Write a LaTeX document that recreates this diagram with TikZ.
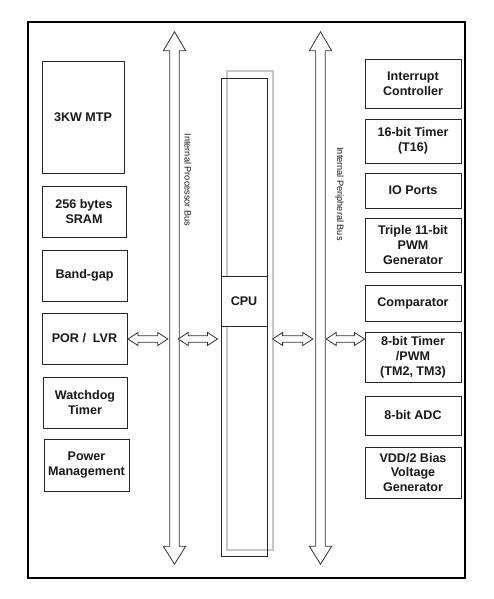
\documentclass[tikz,border=0pt]{standalone}
\usepackage{fontspec}
\setmainfont{Liberation Sans}
\usetikzlibrary{calc}
\tikzset{
  blk/.style={draw=black!85, line width=0.9bp, fill=white, inner sep=0.5bp, align=center,
    font=\fontsize{12.6}{15}\selectfont\bfseries, text=black!90},
  lbox/.style={blk},
  rbox/.style={blk, minimum width=96bp},
  busbody/.style={inner sep=0pt, minimum width=9bp},
  blockarrow/.style={draw=black!80, line width=0.8bp, fill=white},
  buslabel/.style={font=\fontsize{9.2}{10}\selectfont, rotate=-90, text=black!90},
}
\begin{document}
\begin{tikzpicture}[x=1bp,y=-1bp]
\useasboundingbox (0,0) rectangle (494,599);
% outer frame
\node[draw=black, line width=1.4bp, minimum width=437bp, minimum height=556bp, inner sep=0pt] (frame) at (246.5,300) {};

% left column
\node[lbox, minimum width=82bp, minimum height=112bp] (mtp) at (83,117) {3KW MTP};
\node[lbox, minimum width=84bp, minimum height=51bp] (sram) at (84,211.5) {256 bytes\\SRAM};
\node[lbox, minimum width=85bp, minimum height=51bp] (bg) at (84.5,275.5) {Band-gap};
\node[lbox, minimum width=85bp, minimum height=51bp] (por) at (84.5,338.5) {POR /\ \ LVR};
\node[lbox, minimum width=84bp, minimum height=51bp] (wdt) at (85,402.5) {Watchdog\\Timer};
\node[lbox, minimum width=85bp, minimum height=52bp] (pwr) at (86.5,465) {Power\\Management};

% right column
\node[rbox, minimum height=49bp] (intc) at (413,83.5) {Interrupt\\Controller};
\node[rbox, minimum height=44bp] (t16) at (413,141) {16-bit Timer\\(T16)};
\node[rbox, minimum height=35bp] (io) at (413,190.5) {IO Ports};
\node[rbox, minimum height=54bp] (pwm) at (413,245) {Triple 11-bit\\PWM\\Generator};
\node[rbox, minimum height=36bp] (cmp) at (413,303) {Comparator};
\node[rbox, minimum height=50bp] (tm) at (413,357) {8-bit Timer\\/PWM\\(TM2, TM3)};
\node[rbox, minimum height=39bp] (adc) at (413,415.5) {8-bit ADC};
\node[rbox, minimum height=51bp] (vdd) at (413,472.5) {VDD/2 Bias\\Voltage\\Generator};

% CPU column
\node[draw=black!22, line width=1.2bp, minimum width=46bp, minimum height=479bp, inner sep=0pt] (cpushadow) at (250,310.5) {};
\node[draw=black!85, line width=0.9bp, minimum width=46bp, minimum height=478bp, inner sep=0pt] (cpucol) at (244,317) {};
\node[blk, minimum width=46bp, minimum height=50bp] (cpu) at (244,301) {CPU};

% bus bodies (shafts)
\node[busbody, minimum height=495bp] (pbus) at (174.5,298.5) {};
\node[busbody, minimum height=495bp] (perbus) at (320.5,298.5) {};

% vertical bus arrows
\foreach \b in {pbus,perbus}{
  \draw[blockarrow] let \p1=(\b.north west), \p2=(\b.south east) in
    ($(\x1,\y1)$) -- ++(-6.5bp,0) -- ($(\x1/2+\x2/2,\y1+19bp)$) -- ($(\x2+6.5bp,\y1)$) -- (\x2,\y1)
    -- (\x2,\y2) -- ++(6.5bp,0) -- ($(\x1/2+\x2/2,\y2-18bp)$) -- ($(\x1-6.5bp,\y2)$) -- (\x1,\y2) -- cycle;
}
\node[buslabel] (pbuslabel) at (188,180) {Internal Processor Bus};
\node[buslabel] (perbuslabel) at (339.5,194) {Internal Peripheral Bus};

% horizontal double arrows
\newcommand{\dblarrow}[3]{% start x-node, end x-node, y-node
  \draw[blockarrow] let \p1=(#1), \p2=(#2), \p3=(#3) in
    (\x1,\y3) -- (\x1+10bp,\y3+6.5bp) -- (\x1+10bp,\y3+3.2bp) -- (\x2-10bp,\y3+3.2bp)
    -- (\x2-10bp,\y3+6.5bp) -- (\x2,\y3) -- (\x2-10bp,\y3-6.5bp) -- (\x2-10bp,\y3-3.2bp)
    -- (\x1+10bp,\y3-3.2bp) -- (\x1+10bp,\y3-6.5bp) -- cycle;}
\coordinate (ay) at (0,339);
\dblarrow{$(por.east)+(0.5bp,0)$}{$(pbus.west)+(-2bp,0)$}{ay}
\dblarrow{$(pbus.east)+(-1bp,0)$}{$(cpucol.west)+(-3bp,0)$}{ay}
\dblarrow{$(cpushadow.east)+(-1bp,0)$}{$(perbus.west)+(-3bp,0)$}{ay}
\dblarrow{$(perbus.east)+(1bp,0)$}{$(tm.west)+(0,0)$}{ay}
\end{tikzpicture}
\end{document}
